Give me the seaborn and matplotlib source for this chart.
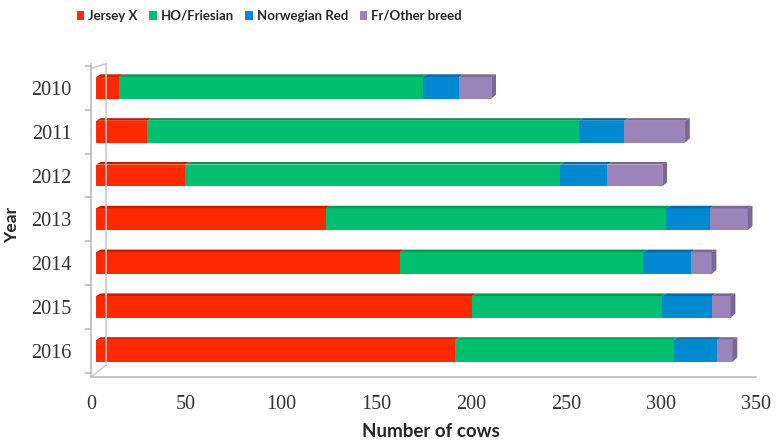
import numpy as np
import pandas as pd
import seaborn as sns
import matplotlib.pyplot as plt
from matplotlib.patches import Polygon, Patch
from matplotlib.transforms import ScaledTranslation

# Herd composition by breed, per year
years = ["2010", "2011", "2012", "2013", "2014", "2015", "2016"]
jersey_x = [12, 27, 47, 121, 160, 198, 189]
ho_friesian = [160, 227, 197, 179, 128, 100, 115]
norwegian_red = [19, 24, 25, 23, 25, 26, 23]
fr_other = [17, 32, 29, 20, 11, 10, 8]

series_names = ["Jersey X", "HO/Friesian", "Norwegian Red", "Fr/Other breed"]
colors = ["#FF2A00", "#00C070", "#0088D0", "#9B84BA"]
dark_colors = ["#C81E00", "#009A58", "#006BA6", "#7A6796"]

sns.set_theme(style="white")
plt.rcParams["font.family"] = ["Liberation Serif", "DejaVu Serif"]

df = pd.DataFrame({
    "Year": years,
    "Jersey X": jersey_x,
    "HO/Friesian": ho_friesian,
    "Norwegian Red": norwegian_red,
    "Fr/Other breed": fr_other,
})
cum = df[series_names].cumsum(axis=1)

fig = plt.figure(figsize=(7.76, 4.40), dpi=100)
ax = fig.add_axes([0.1173, 0.143, 0.857, 0.712])

bar_w = 0.5
# Stacked bars: draw cumulative totals from the outermost series inward
for name, col in reversed(list(zip(series_names, colors))):
    sns.barplot(data=pd.DataFrame({"Year": years, "v": cum[name]}), x="v", y="Year",
                orient="h", color=col, width=bar_w, saturation=1, ax=ax,
                edgecolor="none", linewidth=0)

# Thin darker top face and end cap for a shallow 3D look
for i in range(len(years)):
    left = 0.0
    for j, name in enumerate(series_names):
        right = cum[name].iloc[i]
        top = i - bar_w / 2
        ax.add_patch(Polygon([(left, top), (right, top), (right + 2.5, top - 0.06),
                              (left + 2.5, top - 0.06)], closed=True,
                             facecolor=dark_colors[j], edgecolor="none"))
        left = right
    total = cum[series_names[-1]].iloc[i]
    ax.add_patch(Polygon([(total, i - bar_w / 2), (total + 2.5, i - bar_w / 2 - 0.06),
                          (total + 2.5, i + bar_w / 2 - 0.1), (total, i + bar_w / 2)],
                         closed=True, facecolor=dark_colors[-1], edgecolor="none"))

# Bars sit a little in front of the axis wall (perspective offset)
shift = ax.transData + ScaledTranslation(5 / 100, 0, fig.dpi_scale_trans)
for p in ax.patches:
    p.set_transform(shift)

ax.set_xlim(0, 350)
ax.set_ylim(6.6, -0.55)
ax.set_xticks([0, 50, 100, 150, 200, 250, 300, 350])
ax.set_yticks(range(len(years)))
ax.set_yticklabels(years)
ax.set_yticks([i + 0.5 for i in range(-1, len(years))], minor=True)
ax.tick_params(axis="both", labelsize=14.5, colors="#333333")
ax.tick_params(axis="y", which="major", length=0, pad=14)
ax.tick_params(axis="y", which="minor", length=4, color="#BBBBBB", left=True, width=1.2)
ax.tick_params(axis="x", length=6, color="#BBBBBB", width=1.2, direction="out", pad=7)

for s in ["top", "right"]:
    ax.spines[s].set_visible(False)
for s in ["left", "bottom"]:
    ax.spines[s].set_color("#BBBBBB")
    ax.spines[s].set_linewidth(1.2)

# Back wall edge of the 3D frame
ax.plot([0.0225, 0.0225, 0.0], [1.0, 0.038, 0.0], transform=ax.transAxes,
        color="#CCCCCC", lw=1.2, clip_on=False)
ax.plot([0.0, 0.0225], [0.985, 1.0], transform=ax.transAxes,
        color="#CCCCCC", lw=1.2, clip_on=False)

sans = ["Lato", "DejaVu Sans"]
ax.set_xlabel("Number of cows", fontsize=13.5, fontweight="bold", family=sans)
ax.set_ylabel("Year", fontsize=12.5, fontweight="bold", family=sans)
ax.xaxis.set_label_coords(0.511, -0.147)
ax.yaxis.set_label_coords(-0.106, 0.486)

handles = [Patch(facecolor=c, edgecolor="none") for c in colors]
fig.legend(handles, series_names, loc="center", bbox_to_anchor=(0.347, 0.964), ncol=4,
           frameon=False, prop={"family": sans, "weight": "bold", "size": 9.5},
           handlelength=0.6, handleheight=0.7, handletextpad=0.3, columnspacing=0.85)

fig.savefig("out.png", dpi=100)
